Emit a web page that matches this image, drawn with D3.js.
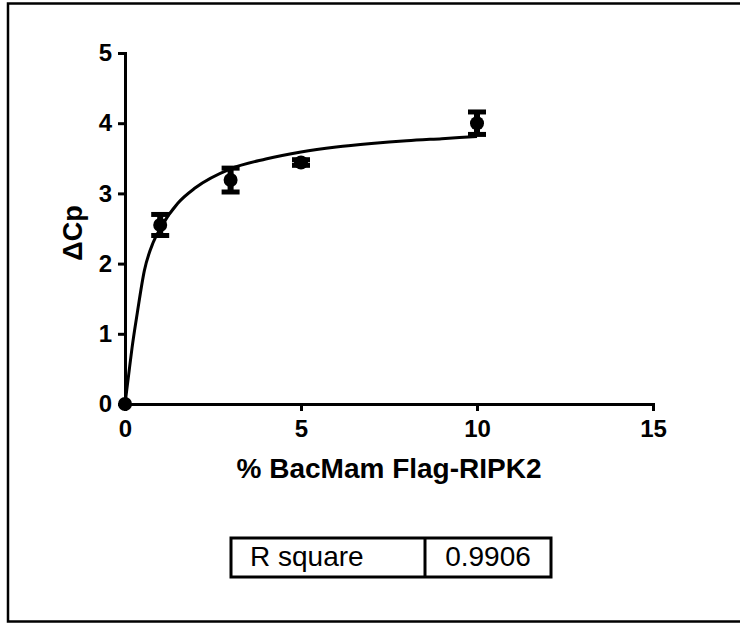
<!DOCTYPE html>
<html>
<head>
<meta charset="utf-8">
<script src="https://cdn.jsdelivr.net/npm/d3@7"></script>
<style>
  body { margin: 0; background: #fff; }
  text { font-family: "Liberation Sans", Arial, sans-serif; }
</style>
</head>
<body>
<div id="chart"></div>
<script>
// measured points (mean and error)
var doseX = [0, 1, 3, 5, 10];
var deltaCp = [0, 2.55, 3.19, 3.44, 4.0];
var errCp = [0, 0.15, 0.17, 0.04, 0.16];

// fitted curve
var fitX = [0, 0.1, 0.2, 0.35, 0.55, 0.8, 1, 1.5, 2, 3, 4, 5, 6, 7, 8, 9, 10];
var fitY = [0, 0.4, 0.8, 1.3, 1.9, 2.3, 2.5, 2.86, 3.08, 3.35, 3.49, 3.59, 3.66, 3.71, 3.75, 3.78, 3.81];

var xTicks = [0, 5, 10, 15];
var yTicks = [0, 1, 2, 3, 4, 5];

var rLabel = "R square";
var rValue = "0.9906";

var w = 740;
var h = 623;

var svg = d3.select("#chart")
            .append("svg")
            .attr("width", w)
            .attr("height", h);

// outer frame
svg.append("rect")
    .attr("x", 8).attr("y", 3.5)
    .attr("width", w).attr("height", 618)
    .attr("fill", "none")
    .attr("stroke", "#000")
    .attr("stroke-width", 2.5);

var x = d3.scaleLinear().domain([0, 15]).range([125, 653]);
var y = d3.scaleLinear().domain([0, 5]).range([404, 53]);

// axes
var xAxis = svg.append("g")
    .attr("transform", "translate(0," + y(0) + ")")
    .call(d3.axisBottom(x).tickValues(xTicks).tickFormat(d3.format("d")).tickSize(7).tickPadding(9));
var yAxis = svg.append("g")
    .attr("transform", "translate(" + x(0) + ",0)")
    .call(d3.axisLeft(y).tickValues(yTicks).tickFormat(d3.format("d")).tickSize(7).tickPadding(6));

[xAxis, yAxis].forEach(function(a) {
    a.select(".domain").attr("stroke", "#000").attr("stroke-width", 3);
    a.selectAll(".tick line").attr("stroke", "#000").attr("stroke-width", 3);
    a.selectAll(".tick text")
        .attr("fill", "#000")
        .style("font-size", "24px")
        .style("font-weight", "bold")
        .style("font-family", "'Liberation Sans', Arial, sans-serif");
});

// axis titles
svg.append("text")
    .attr("x", (x(0) + x(15)) / 2)
    .attr("y", 478)
    .attr("text-anchor", "middle")
    .style("font-size", "28px")
    .style("font-weight", "bold")
    .text("% BacMam Flag-RIPK2");

svg.append("text")
    .attr("transform", "translate(82," + 233 + ") rotate(-90)")
    .attr("text-anchor", "middle")
    .style("font-size", "27px")
    .style("font-weight", "bold")
    .text("\u0394Cp");

// fitted curve
var line = d3.line()
    .x(function(d) { return x(d[0]); })
    .y(function(d) { return y(d[1]); })
    .curve(d3.curveMonotoneX);

svg.append("path")
    .datum(d3.zip(fitX, fitY))
    .attr("d", line)
    .attr("fill", "none")
    .attr("stroke", "#000")
    .attr("stroke-width", 3);

// error bars
var pts = d3.range(doseX.length).map(function(i) {
    return { x: doseX[i], y: deltaCp[i], e: errCp[i] };
});

var eb = svg.selectAll(".eb")
    .data(pts.filter(function(d) { return d.e > 0; }))
    .enter().append("g");

eb.append("line")
    .attr("x1", function(d) { return x(d.x); })
    .attr("x2", function(d) { return x(d.x); })
    .attr("y1", function(d) { return y(d.y + d.e); })
    .attr("y2", function(d) { return y(d.y - d.e); })
    .attr("stroke", "#000").attr("stroke-width", 6);

eb.selectAll(".cap")
    .data(function(d) { return [[d.x, d.y + d.e], [d.x, d.y - d.e]]; })
    .enter().append("line")
    .attr("x1", function(d) { return x(d[0]) - 9; })
    .attr("x2", function(d) { return x(d[0]) + 9; })
    .attr("y1", function(d) { return y(d[1]); })
    .attr("y2", function(d) { return y(d[1]); })
    .attr("stroke", "#000").attr("stroke-width", 5);

// points
svg.selectAll(".pt")
    .data(pts)
    .enter().append("circle")
    .attr("cx", function(d) { return x(d.x); })
    .attr("cy", function(d) { return y(d.y); })
    .attr("r", 7)
    .attr("fill", "#000");

// R square table
var tb = svg.append("g");
tb.append("rect")
    .attr("x", 231).attr("y", 538)
    .attr("width", 320).attr("height", 39)
    .attr("fill", "#fff")
    .attr("stroke", "#000")
    .attr("stroke-width", 3);
tb.append("line")
    .attr("x1", 425).attr("x2", 425)
    .attr("y1", 538).attr("y2", 577)
    .attr("stroke", "#000").attr("stroke-width", 3);
tb.append("text")
    .attr("x", 250).attr("y", 566)
    .style("font-size", "28px")
    .text(rLabel);
tb.append("text")
    .attr("x", 488).attr("y", 566)
    .attr("text-anchor", "middle")
    .style("font-size", "28px")
    .text(rValue);
</script>
</body>
</html>
